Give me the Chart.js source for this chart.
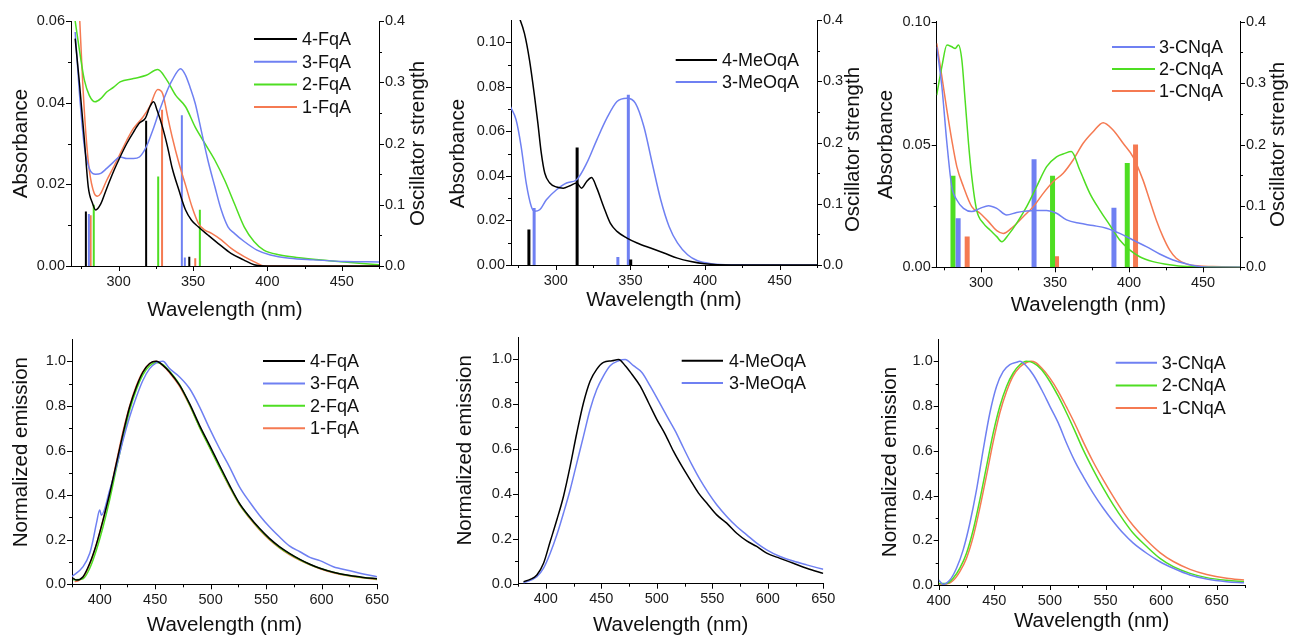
<!DOCTYPE html>
<html>
<head>
<meta charset="utf-8">
<script src="https://cdn.jsdelivr.net/npm/chart.js@4.4.1/dist/chart.umd.min.js"></script>
<style>
  html, body { margin: 0; padding: 0; background: #fff; overflow: hidden; }
  body { width: 1291px; height: 637px; position: relative; }
  canvas { position: absolute; }
</style>
</head>
<body>
<canvas id="p1" width="440" height="330" style="left:0;top:0"></canvas>
<canvas id="p2" width="440" height="330" style="left:430px;top:0"></canvas>
<canvas id="p3" width="431" height="330" style="left:860px;top:0"></canvas>
<canvas id="p4" width="430" height="320" style="left:0;top:320px"></canvas>
<canvas id="p5" width="430" height="320" style="left:430px;top:320px"></canvas>
<canvas id="p6" width="431" height="320" style="left:860px;top:320px"></canvas>
<script>
// ---- tick values ----
const uvWlTicks = [275, 300, 325, 350, 375, 400, 425, 450, 475];
const emWlTicks = [375, 400, 425, 450, 475, 500, 525, 550, 575, 600, 625, 650];
const cnEmWlTicks = [400, 425, 450, 475, 500, 525, 550, 575, 600, 625, 650, 675];
const fqaAbsTicks = [0, 0.01, 0.02, 0.03, 0.04, 0.05, 0.06];
const meoAbsTicks = [0, 0.01, 0.02, 0.03, 0.04, 0.05, 0.06, 0.07, 0.08, 0.09, 0.10];
const cnAbsTicks = [0, 0.025, 0.05, 0.075, 0.10];
const oscTicks = [0, 0.05, 0.1, 0.15, 0.2, 0.25, 0.3, 0.35, 0.4];
const emTicks = [0, 0.1, 0.2, 0.3, 0.4, 0.5, 0.6, 0.7, 0.8, 0.9, 1.0];

// ---- FqA absorbance ----
const fqaAbsWl4 = [270.8, 273.7, 277, 279.6, 282.5, 284.6, 288, 292, 297, 301, 305.5, 310, 314, 318, 321, 323.5, 326, 329.5, 333, 336, 340.5, 345, 349, 353.5, 360, 367, 375.5, 384, 391, 400, 475];
const fqaAbs4 = [0.0557, 0.0447, 0.0308, 0.0194, 0.0153, 0.0137, 0.0152, 0.019, 0.0235, 0.0267, 0.030, 0.0328, 0.035, 0.0362, 0.039, 0.0402, 0.038, 0.034, 0.029, 0.024, 0.0186, 0.0137, 0.0112, 0.0096, 0.0076, 0.0055, 0.0031, 0.0015, 0.0003, 0, 0];
const fqaAbsWl3 = [270.8, 273.7, 277, 280.3, 284.6, 288, 292, 296.7, 301, 305.5, 310, 314, 318.6, 323, 327.4, 331.8, 336, 341.7, 345, 348, 351.5, 356, 360, 364.7, 369, 373.5, 377.8, 384.4, 393, 402, 415, 430.5, 452, 475];
const fqaAbs3 = [0.0573, 0.0422, 0.0292, 0.0239, 0.0225, 0.0227, 0.0239, 0.0255, 0.0267, 0.0263, 0.0263, 0.0267, 0.0292, 0.0333, 0.038, 0.0422, 0.0455, 0.0483, 0.0467, 0.0438, 0.0398, 0.0324, 0.0259, 0.0194, 0.0137, 0.0096, 0.008, 0.006, 0.0039, 0.0027, 0.0019, 0.0015, 0.0011, 0.001];
const fqaAbsWl2 = [270.8, 273.7, 277, 280.3, 284.2, 288, 292, 296.7, 301, 310, 318.6, 326.3, 331.8, 338.4, 345, 351.5, 358, 364.7, 371.3, 377.8, 384.4, 391, 397.6, 408.5, 419.5, 441.4, 475];
const fqaAbs2 = [0.06, 0.0528, 0.0455, 0.0418, 0.0402, 0.041, 0.0426, 0.0438, 0.0451, 0.0459, 0.0467, 0.0481, 0.0459, 0.0418, 0.039, 0.034, 0.030, 0.0259, 0.021, 0.0153, 0.0096, 0.006, 0.0039, 0.0027, 0.0021, 0.0013, 0.0003];
const fqaAbsWl1 = [273.9, 275.9, 278, 280.3, 283.6, 285.7, 288, 292, 296.7, 301, 305.5, 310, 316.4, 320.8, 326.3, 329.6, 333, 336, 340.6, 345, 349.3, 353.7, 358, 362.5, 369, 375.7, 384.4, 393, 397.6, 475];
const fqaAbs1 = [0.06, 0.0447, 0.0324, 0.0235, 0.0178, 0.0171, 0.0178, 0.021, 0.0243, 0.0275, 0.0308, 0.0337, 0.0365, 0.039, 0.0432, 0.0422, 0.0365, 0.0316, 0.0251, 0.0198, 0.0145, 0.0104, 0.0088, 0.008, 0.0064, 0.0043, 0.0023, 0.0007, 0, 0];
const fqaStickWl4 = [278, 318.5, 347.5], fqaStickF4 = [0.089, 0.237, 0.015];
const fqaStickWl3 = [280, 342.5, 344.5], fqaStickF3 = [0.085, 0.246, 0.014];
const fqaStickWl2 = [283.3, 326.6, 354.6], fqaStickF2 = [0.1, 0.146, 0.092];
const fqaStickWl1 = [281.2, 329.2, 351.5], fqaStickF1 = [0.083, 0.255, 0.0125];

// ---- MeOqA absorbance ----
const meoAbsWl4 = [274.5, 279, 282.4, 285.8, 288, 290.3, 292.6, 296, 300.5, 305, 309.5, 314, 317.3, 320.7, 324, 327.5, 332, 336.5, 341, 347.7, 354.5, 363.5, 372.5, 381.5, 390.5, 399.5, 417.6, 475];
const meoAbs4 = [0.113, 0.104, 0.092, 0.0756, 0.0637, 0.0502, 0.0413, 0.0368, 0.035, 0.0345, 0.0356, 0.0368, 0.0345, 0.0375, 0.0393, 0.0345, 0.0263, 0.0188, 0.0151, 0.0121, 0.0099, 0.0076, 0.0054, 0.0031, 0.0016, 0.0006, 0, 0];
const meoAbsWl3 = [269.6, 273.4, 276.8, 280.2, 283.6, 285.8, 289.2, 293.7, 300.5, 307.2, 314, 320.7, 327.5, 334.2, 341, 347.7, 353.4, 359, 364.6, 370.3, 375.9, 381.5, 388.3, 395, 404, 417.6, 475];
const meoAbs3 = [0.0711, 0.0652, 0.0532, 0.0368, 0.0263, 0.0241, 0.0248, 0.0293, 0.0338, 0.0368, 0.0383, 0.0457, 0.0562, 0.0659, 0.0734, 0.0749, 0.0726, 0.0622, 0.0457, 0.0293, 0.0173, 0.0099, 0.0046, 0.0019, 0.0006, 0.0001, 0];
const meoStickWl4 = [282, 314.3, 350.2], meoStickF4 = [0.058, 0.192, 0.009];
const meoStickWl3 = [285.5, 341.6, 348.6], meoStickF3 = [0.093, 0.013, 0.278];

// ---- CNqA absorbance ----
const cnAbsWl3 = [270, 273.5, 276.9, 280.2, 283.6, 288.1, 293.7, 299.3, 305, 310.6, 317.3, 324, 330.8, 337.5, 344.3, 351, 357.8, 366.7, 375.7, 384.7, 393.7, 402.7, 411.7, 420.7, 429.7, 438.7, 445.4, 454.4, 475];
const cnAbs3 = [0.0898, 0.0735, 0.0505, 0.0328, 0.0274, 0.024, 0.0227, 0.024, 0.0251, 0.024, 0.0213, 0.0223, 0.0229, 0.0231, 0.0231, 0.022, 0.0193, 0.0179, 0.017, 0.0159, 0.0138, 0.0111, 0.0084, 0.0054, 0.003, 0.0014, 0.0005, 0, 0];
const cnAbsWl2 = [270, 273.5, 276.9, 280.2, 282.5, 284.7, 287, 289.2, 291.5, 293.7, 297, 301.6, 306, 310.6, 314, 318.4, 324, 330.8, 337.5, 344.3, 351, 356.6, 361, 366.7, 373.5, 380.2, 387, 393.7, 400.4, 407.2, 416.2, 427.4, 438.7, 475];
const cnAbs2 = [0.0701, 0.0817, 0.0905, 0.0898, 0.0891, 0.0905, 0.0844, 0.0681, 0.0505, 0.0369, 0.0233, 0.0179, 0.0152, 0.0125, 0.0104, 0.0132, 0.0179, 0.0247, 0.0328, 0.041, 0.045, 0.0464, 0.0471, 0.0396, 0.0301, 0.0233, 0.0172, 0.0111, 0.0071, 0.0043, 0.0023, 0.001, 0.0003, 0];
const cnAbsWl1 = [270, 273.5, 276.9, 280.2, 283.6, 288.1, 293.7, 299.3, 305, 310.6, 315, 321.8, 328.5, 335.3, 342, 348.8, 355.5, 362.2, 369, 375.7, 382.5, 389.2, 396, 402.7, 409.4, 413.9, 418.4, 422.9, 427.4, 431.9, 438.7, 447.6, 456.6, 475];
const cnAbs1 = [0.0912, 0.0776, 0.064, 0.0518, 0.041, 0.0328, 0.0247, 0.022, 0.0186, 0.0149, 0.0138, 0.0166, 0.0206, 0.0247, 0.0301, 0.0349, 0.0383, 0.0437, 0.0505, 0.0552, 0.0589, 0.0559, 0.0505, 0.045, 0.0356, 0.0274, 0.0193, 0.0125, 0.0071, 0.0037, 0.0014, 0.0005, 0.0003, 0];
const cnStickWl3 = [284.5, 335.8, 389.8], cnStickF3 = [0.08, 0.176, 0.097];
const cnStickWl2 = [281, 348.3, 398.8], cnStickF2 = [0.149, 0.149, 0.17];
const cnStickWl1 = [290.6, 351, 404.4], cnStickF1 = [0.05, 0.018, 0.2];

// ---- FqA emission ----
const fqaEmWl4 = [376, 379, 385, 391, 397, 403, 409, 415, 421, 427, 433, 439, 445, 451, 457, 463, 472, 481, 490, 499, 508, 517, 526, 535, 544, 553, 562, 571, 580.5, 589.5, 598.5, 610.6, 625.6, 637.7, 650];
const fqaEm4 = [0.027, 0.019, 0.034, 0.094, 0.18, 0.288, 0.407, 0.542, 0.676, 0.796, 0.885, 0.952, 0.99, 1.0, 0.982, 0.952, 0.893, 0.81, 0.713, 0.624, 0.534, 0.445, 0.363, 0.303, 0.251, 0.206, 0.169, 0.139, 0.112, 0.09, 0.072, 0.054, 0.039, 0.031, 0.025];
const fqaEmWl3 = [374.7, 385, 391, 394, 397, 400, 401.5, 409, 415, 421, 427, 433, 439, 445, 451, 457, 463, 472, 481, 490, 499, 508, 517, 526, 535, 544, 553, 562, 571, 580.5, 589.5, 598.5, 610.6, 625.6, 637.7, 650];
const fqaEm3 = [0.034, 0.079, 0.139, 0.199, 0.273, 0.333, 0.31, 0.422, 0.527, 0.646, 0.751, 0.84, 0.915, 0.967, 0.993, 1.0, 0.967, 0.93, 0.878, 0.796, 0.699, 0.609, 0.527, 0.437, 0.37, 0.31, 0.258, 0.213, 0.172, 0.146, 0.121, 0.106, 0.079, 0.061, 0.046, 0.034];
const fqaEmWl2 = [376, 385, 391, 397, 403, 409, 415, 421, 427, 433, 439, 445, 451, 457, 463, 472, 481, 490, 499, 508, 517, 526, 535, 544, 553, 562, 571, 580.5, 589.5, 598.5, 610.6, 625.6, 637.7, 650];
const fqaEm2 = [0.02, 0.025, 0.072, 0.154, 0.258, 0.38, 0.52, 0.655, 0.78, 0.872, 0.94, 0.98, 0.995, 0.985, 0.955, 0.895, 0.805, 0.705, 0.615, 0.525, 0.44, 0.36, 0.3, 0.248, 0.203, 0.166, 0.137, 0.11, 0.089, 0.072, 0.054, 0.038, 0.03, 0.024];
const fqaEmWl1 = [377.4, 380, 385, 391, 397, 403, 409, 415, 421, 427, 433, 439, 445, 451, 457, 463, 472, 481, 490, 499, 508, 517, 526, 535, 544, 553, 562, 571, 580.5, 589.5, 598.5, 610.6, 625.6, 637.7, 650];
const fqaEm1 = [0.012, 0.015, 0.03, 0.09, 0.178, 0.29, 0.41, 0.548, 0.685, 0.8, 0.89, 0.955, 0.99, 1.0, 0.98, 0.948, 0.888, 0.803, 0.705, 0.615, 0.525, 0.437, 0.357, 0.297, 0.245, 0.2, 0.163, 0.133, 0.107, 0.087, 0.07, 0.052, 0.037, 0.029, 0.022];

// ---- MeOqA emission ----
const meoEmWl4 = [380, 386, 392, 398, 404, 410, 416, 422, 428, 434, 440, 446, 452, 459.7, 465.6, 471.6, 477.6, 485, 492.6, 500, 507.6, 515, 522.6, 530, 537.6, 545, 554, 563, 572, 581, 590, 599, 611, 623, 635, 650];
const meoEm4 = [0.009, 0.019, 0.039, 0.091, 0.188, 0.285, 0.39, 0.524, 0.673, 0.807, 0.904, 0.957, 0.987, 0.994, 1.0, 0.972, 0.934, 0.882, 0.807, 0.733, 0.666, 0.591, 0.524, 0.464, 0.404, 0.36, 0.307, 0.27, 0.225, 0.191, 0.166, 0.136, 0.113, 0.091, 0.069, 0.046];
const meoEmWl3 = [380, 392, 398, 404, 410, 416, 422, 428, 434, 440, 446, 452, 458, 465.6, 471.6, 479, 486.6, 494, 501.6, 509, 516.6, 524, 531.6, 539, 546.6, 554, 563, 572, 581, 590, 599, 611, 623, 635, 650];
const meoEm3 = [0.004, 0.031, 0.069, 0.136, 0.218, 0.315, 0.419, 0.539, 0.658, 0.778, 0.867, 0.927, 0.972, 0.994, 1.0, 0.972, 0.942, 0.882, 0.815, 0.748, 0.681, 0.606, 0.531, 0.464, 0.404, 0.352, 0.3, 0.255, 0.218, 0.181, 0.151, 0.121, 0.101, 0.084, 0.064];

// ---- CNqA emission ----
const cnEmWl3 = [400, 404, 410, 416, 422, 428, 434, 440, 446, 452, 458, 464, 470, 473, 479, 485, 492.6, 500, 507.6, 515, 522.6, 530, 539, 548, 557, 566, 575, 587, 599, 611, 626, 641, 659, 674.6];
const cnEm3 = [0.022, 0.003, 0.022, 0.075, 0.157, 0.276, 0.425, 0.604, 0.769, 0.888, 0.955, 0.985, 0.996, 1.0, 0.978, 0.94, 0.873, 0.799, 0.724, 0.634, 0.552, 0.485, 0.41, 0.343, 0.284, 0.231, 0.187, 0.142, 0.104, 0.075, 0.045, 0.027, 0.015, 0.01];
const cnEmWl2 = [400, 407, 413, 419, 425, 431, 437, 443, 449, 455, 461, 467, 473, 479, 485, 492.6, 500, 507.6, 515, 522.6, 530, 539, 548, 557, 566, 575, 587, 599, 611, 626, 641, 659, 674.6];
const cnEm2 = [0.007, 0.007, 0.03, 0.075, 0.142, 0.246, 0.381, 0.53, 0.679, 0.799, 0.888, 0.948, 0.985, 1.0, 0.993, 0.963, 0.91, 0.843, 0.769, 0.687, 0.604, 0.515, 0.433, 0.358, 0.291, 0.231, 0.172, 0.119, 0.082, 0.052, 0.033, 0.021, 0.015];
const cnEmWl1 = [400, 407, 413, 419, 425, 431, 437, 443, 449, 455, 461, 467, 473, 479, 483, 487, 492.6, 500, 507.6, 515, 522.6, 530, 539, 548, 557, 566, 575, 587, 599, 611, 626, 641, 659, 674.6];
const cnEm1 = [0.005, 0.005, 0.02, 0.06, 0.12, 0.215, 0.345, 0.49, 0.64, 0.77, 0.865, 0.935, 0.975, 0.995, 1.0, 0.995, 0.97, 0.925, 0.865, 0.795, 0.72, 0.64, 0.55, 0.47, 0.395, 0.325, 0.265, 0.2, 0.145, 0.105, 0.07, 0.047, 0.03, 0.022];

const BLACK = '#000000', BLUE = '#6f80f2', GREEN = '#4ede22', ORANGE = '#f57a52';
const FONT = 'Arial, "Liberation Sans", sans-serif';

const curve = (label, xs, ys, color) => ({
    label, data: xs.map((x, i) => ({ x, y: ys[i] })),
    borderColor: color, borderWidth: 1.5, pointRadius: 0,
    tension: 0.4, cubicInterpolationMode: 'monotone', yAxisID: 'y'
});

// vertical sticks on the oscillator strength axis, broken apart by null points
const sticks = (xs, hs, color, width) => ({
    label: '', data: xs.flatMap((x, i) => [{ x, y: 0 }, { x, y: hs[i] }, { x, y: null }]),
    borderColor: color, borderWidth: width, pointRadius: 0, spanGaps: false,
    tension: 0, yAxisID: 'y2'
});

const isMajor = (v, major) => Math.abs(v / major - Math.round(v / major)) < 1e-6;

const axis = (pos, min, max, ticks, major, dec, title, size) => {
    const horiz = pos === 'bottom';
    return {
        type: 'linear', position: pos, min, max,
        grid: { display: false, drawTicks: false },
        border: { display: true, color: '#000', width: 1 },
        afterBuildTicks: s => { s.ticks = ticks.map(v => ({ value: v })); },
        afterFit: s => { if (horiz) s.height = size; else s.width = size; },
        ticks: {
            autoSkip: false, maxRotation: 0, padding: horiz ? 7 : 6, color: '#1a1a1a',
            font: { family: FONT, size: 14.5 },
            callback: v => isMajor(v, major) ? v.toFixed(dec) : ''
        },
        title: { display: !!title, text: title, color: '#111', font: { family: FONT, size: 20.5 }, padding: 0 }
    };
};

const tickMarks = {
    id: 'tickMarks',
    afterDraw(chart) {
        const ctx = chart.ctx;
        ctx.save();
        ctx.strokeStyle = '#000';
        ctx.lineWidth = 1;
        Object.values(chart.scales).forEach(s => {
            s.ticks.forEach(t => {
                const len = t.label ? 5 : 3;
                const p = Math.round(s.getPixelForValue(t.value)) + 0.5;
                ctx.beginPath();
                if (s.position === 'bottom') { ctx.moveTo(p, s.top); ctx.lineTo(p, s.top + len); }
                else if (s.position === 'left') { ctx.moveTo(s.right, p); ctx.lineTo(s.right - len, p); }
                else { ctx.moveTo(s.left, p); ctx.lineTo(s.left + len, p); }
                ctx.stroke();
            });
        });
        ctx.restore();
    }
};

// vertical text, bottom-to-top, centred at (x, y)
const sideText = (ctx, text, x, y) => {
    ctx.save();
    ctx.font = '20.5px ' + FONT;
    ctx.fillStyle = '#111';
    ctx.textAlign = 'center';
    ctx.textBaseline = 'middle';
    ctx.translate(x, y);
    ctx.rotate(-Math.PI / 2);
    ctx.fillText(text, 0, 0);
    ctx.restore();
};

const inlineLegend = {
    id: 'inlineLegend',
    afterDraw(chart, args, o) {
        const ctx = chart.ctx;
        const mid = (chart.chartArea.top + chart.chartArea.bottom) / 2;
        ctx.save();
        ctx.font = '18px ' + FONT;
        ctx.textBaseline = 'middle';
        ctx.fillStyle = '#111';
        let row = 0;
        chart.data.datasets.forEach(ds => {
            if (!ds.label) return;
            const y = o.y0 + row * o.dy;
            ctx.strokeStyle = ds.borderColor;
            ctx.lineWidth = 2;
            ctx.beginPath(); ctx.moveTo(o.x1, y); ctx.lineTo(o.x2, y); ctx.stroke();
            ctx.fillText(ds.label, o.tx, y + 1);
            row++;
        });
        ctx.restore();
        sideText(ctx, o.yTitle, chart.scales.y.left + 12.3, mid + (o.yDy || 0));
        if (chart.scales.y2) sideText(ctx, 'Oscillator strength', chart.scales.y2.right - 12.3, mid + (o.y2Dy || 0));
    }
};

function makePanel(id, c) {
    const scales = {
        x: axis('bottom', c.xMin, c.xMax, c.xTicks, 50, 0, 'Wavelength (nm)', c.xH),
        y: axis('left', c.yMin, c.yMax, c.yTicks, c.yMajor, c.yDec, '', c.yW)
    };
    if (c.y2W) scales.y2 = axis('right', 0, 0.4, oscTicks, 0.1, 1, '', c.y2W);
    new Chart(document.getElementById(id), {
        type: 'line',
        data: { datasets: c.datasets },
        options: {
            responsive: false, animation: false,
            layout: { padding: c.pad },
            scales,
            plugins: { legend: { display: false }, tooltip: { enabled: false }, inlineLegend: c.legend }
        },
        plugins: [tickMarks, inlineLegend]
    });
}

makePanel('p1', {
    xMin: 268, xMax: 475, xTicks: uvWlTicks, xH: 56.3,
    yMin: 0, yMax: 0.06, yTicks: fqaAbsTicks, yMajor: 0.02, yDec: 2, yW: 62.3, y2W: 51.3,
    pad: { left: 8.7, right: 9.7, top: 21, bottom: 7.7 },
    legend: { x1: 254, x2: 297, tx: 302, y0: 39, dy: 22.7, yTitle: 'Absorbance' },
    datasets: [
        curve('4-FqA', fqaAbsWl4, fqaAbs4, BLACK),
        curve('3-FqA', fqaAbsWl3, fqaAbs3, BLUE),
        curve('2-FqA', fqaAbsWl2, fqaAbs2, GREEN),
        curve('1-FqA', fqaAbsWl1, fqaAbs1, ORANGE),
        sticks(fqaStickWl4, fqaStickF4, BLACK, 2),
        sticks(fqaStickWl3, fqaStickF3, BLUE, 2),
        sticks(fqaStickWl2, fqaStickF2, GREEN, 2),
        sticks(fqaStickWl1, fqaStickF1, ORANGE, 2)
    ]
});

makePanel('p2', {
    xMin: 270, xMax: 475, xTicks: uvWlTicks, xH: 47.3,
    yMin: 0, yMax: 0.11, yTicks: meoAbsTicks, yMajor: 0.02, yDec: 2, yW: 65.3, y2W: 48.3,
    pad: { left: 15.7, right: 4.7, top: 20, bottom: 17.7 },
    legend: { x1: 245.7, x2: 287, tx: 292, y0: 60, dy: 22, yTitle: 'Absorbance', yDy: 11, y2Dy: 7 },
    datasets: [
        curve('4-MeOqA', meoAbsWl4, meoAbs4, BLACK),
        curve('3-MeOqA', meoAbsWl3, meoAbs3, BLUE),
        sticks(meoStickWl4, meoStickF4, BLACK, 3),
        sticks(meoStickWl3, meoStickF3, BLUE, 3)
    ]
});

makePanel('p3', {
    xMin: 270, xMax: 475, xTicks: uvWlTicks, xH: 50,
    yMin: 0, yMax: 0.10, yTicks: cnAbsTicks, yMajor: 0.05, yDec: 2, yW: 63, y2W: 50.3,
    pad: { left: 13.7, right: 0.7, top: 21.7, bottom: 12.7 },
    legend: { x1: 252, x2: 295, tx: 299, y0: 47, dy: 22, yTitle: 'Absorbance' },
    datasets: [
        curve('3-CNqA', cnAbsWl3, cnAbs3, BLUE),
        curve('2-CNqA', cnAbsWl2, cnAbs2, GREEN),
        curve('1-CNqA', cnAbsWl1, cnAbs1, ORANGE),
        sticks(cnStickWl3, cnStickF3, BLUE, 5),
        sticks(cnStickWl2, cnStickF2, GREEN, 5),
        sticks(cnStickWl1, cnStickF1, ORANGE, 5)
    ]
});

makePanel('p4', {
    xMin: 375, xMax: 650, xTicks: emWlTicks, xH: 53,
    yMin: 0, yMax: 1.1, yTicks: emTicks, yMajor: 0.2, yDec: 1, yW: 63.3,
    pad: { left: 8.7, right: 53, top: 19, bottom: 2.7 },
    legend: { x1: 263, x2: 305, tx: 310, y0: 41, dy: 22.4, yTitle: 'Normalized emission', yDy: -9.5 },
    datasets: [
        curve('4-FqA', fqaEmWl4, fqaEm4, BLACK),
        curve('3-FqA', fqaEmWl3, fqaEm3, BLUE),
        curve('2-FqA', fqaEmWl2, fqaEm2, GREEN),
        curve('1-FqA', fqaEmWl1, fqaEm1, ORANGE)
    ]
});

makePanel('p5', {
    xMin: 375, xMax: 650, xTicks: emWlTicks, xH: 53.6,
    yMin: 0, yMax: 1.1, yTicks: emTicks, yMajor: 0.2, yDec: 1, yW: 65.3,
    pad: { left: 22.7, right: 36.7, top: 17, bottom: 2.7 },
    legend: { x1: 251.7, x2: 293, tx: 299, y0: 40.7, dy: 22.3, yTitle: 'Normalized emission', yDy: -10 },
    datasets: [
        curve('4-MeOqA', meoEmWl4, meoEm4, BLACK),
        curve('3-MeOqA', meoEmWl3, meoEm3, BLUE)
    ]
});

makePanel('p6', {
    xMin: 400, xMax: 675, xTicks: cnEmWlTicks, xH: 49,
    yMin: 0, yMax: 1.1, yTicks: emTicks, yMajor: 0.2, yDec: 1, yW: 61,
    pad: { left: 17.7, right: 46.5, top: 19, bottom: 6 },
    legend: { x1: 255.7, x2: 297, tx: 301.7, y0: 42.7, dy: 22.7, yTitle: 'Normalized emission' },
    datasets: [
        curve('3-CNqA', cnEmWl3, cnEm3, BLUE),
        curve('2-CNqA', cnEmWl2, cnEm2, GREEN),
        curve('1-CNqA', cnEmWl1, cnEm1, ORANGE)
    ]
});
</script>
</body>
</html>
